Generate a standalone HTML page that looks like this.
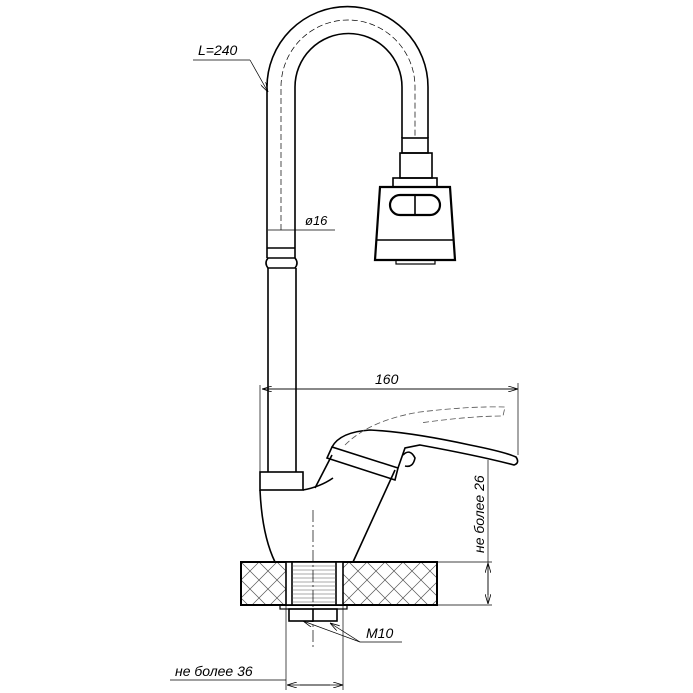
<!DOCTYPE html>
<html><head><meta charset="utf-8"><style>html,body{margin:0;padding:0;background:#fff}svg{display:block}</style></head><body>
<svg width="693" height="693" viewBox="0 0 693 693" xmlns="http://www.w3.org/2000/svg">
<defs>
<pattern id="hx" width="18" height="18" patternUnits="userSpaceOnUse" patternTransform="translate(241,562)">
<path d="M0 0L18 18M18 0L0 18" stroke="#555" stroke-width="0.7"/>
</pattern>
<marker id="ar" markerWidth="10" markerHeight="6" refX="10" refY="3" orient="auto" markerUnits="userSpaceOnUse"><path d="M0 0L10 3L0 6" fill="none" stroke="#000" stroke-width="0.8"/></marker>
</defs>
<g fill="none" stroke="#000" stroke-width="1.6">
<!-- gooseneck -->
<path d="M267 258 V87 A80.5 80.5 0 0 1 428 87 V138"/>
<path d="M295 258 V87 A53 53 0 0 1 402 87 V138"/>
<path d="M281 230 V87 A67 67 0 0 1 415 87 V138" stroke-width="0.7" stroke-dasharray="6,3"/>
<rect x="402" y="138" width="26" height="15"/>
<rect x="400" y="153" width="32" height="25"/>
<rect x="393" y="178" width="44" height="9"/>
<path d="M380 187 H450 L455 260 H375 Z" stroke-width="2.2"/>
<line x1="376" y1="240" x2="454" y2="240"/>
<rect x="396" y="260" width="39" height="4" stroke-width="1.2"/>
<rect x="390" y="195" width="50" height="20" rx="10" stroke-width="2.2"/>
<line x1="415" y1="196" x2="415" y2="214"/>
<!-- ring -->
<line x1="267" y1="248" x2="295" y2="248"/>
<path d="M268 258 Q264 263 268 268 H295 Q299 263 295 258 Z"/>
<path d="M268 268 V472 M296 268 V472"/>
<!-- base block -->
<rect x="260" y="472" width="43" height="18"/>
<!-- body -->
<path d="M260 490 Q262 535 275 562"/>
<path d="M353 562 L395 470"/>
<path d="M303 490 Q320 487 333 478"/>
<path d="M315 488 L332 455"/>
<path d="M327 458 L395 480 L398 468 L332 447 Z"/>
<!-- handle -->
<path d="M332 447 Q340 432 370 430 Q410 432 470 445 Q505 452 516 457 Q520 463 514 465 Q480 456 420 445 L405 448 L398 468"/>
<path d="M403 455 Q410 448 415 458 Q413 468 405 466"/>
<path d="M345 445 Q370 420 420 412 Q470 406 505 407 L503 416 Q470 416 420 423" stroke-width="0.8" stroke-dasharray="6,3" stroke="#555"/>
<!-- counter -->
<rect x="241" y="562" width="196" height="43" fill="url(#hx)" stroke-width="2"/>
<rect x="286" y="562" width="57" height="43" fill="#fff"/>
<line x1="292" y1="562" x2="292" y2="605"/><line x1="336" y1="562" x2="336" y2="605"/>
<g stroke-width="0.6" stroke="#555">
<path d="M292 566H336M292 570H336M292 574H336M292 578H336M292 582H336M292 586H336M292 590H336M292 594H336M292 598H336M292 602H336"/>
</g>
<rect x="280" y="605" width="67" height="4" stroke-width="1.2"/>
<rect x="289" y="609" width="48" height="12"/>
<line x1="313" y1="609" x2="313" y2="621"/>
</g>
<g fill="none" stroke="#000" stroke-width="0.7">
<line x1="313" y1="510" x2="313" y2="650" stroke-dasharray="12,3,2,3"/>
<line x1="260" y1="385" x2="260" y2="472"/>
<line x1="518" y1="383" x2="518" y2="455"/>
<line x1="262" y1="389" x2="518" y2="389" marker-end="url(#ar)"/>
<line x1="516" y1="389" x2="262" y2="389" marker-end="url(#ar)"/>
<line x1="437" y1="562" x2="492" y2="562"/><line x1="437" y1="605" x2="492" y2="605"/>
<line x1="488" y1="460" x2="488" y2="604" marker-end="url(#ar)"/>
<line x1="488" y1="595" x2="488" y2="563" marker-end="url(#ar)"/>
<line x1="286" y1="605" x2="286" y2="690"/><line x1="343" y1="605" x2="343" y2="690"/>
<line x1="170" y1="680" x2="286" y2="680"/>
<line x1="300" y1="685" x2="343" y2="685" marker-end="url(#ar)"/>
<line x1="330" y1="685" x2="287" y2="685" marker-end="url(#ar)"/>
<line x1="360" y1="642" x2="402" y2="642"/>
<line x1="360" y1="642" x2="303" y2="621" marker-end="url(#ar)"/>
<line x1="360" y1="642" x2="330" y2="623" marker-end="url(#ar)"/>
<line x1="193" y1="60" x2="250" y2="60"/>
<line x1="250" y1="60" x2="268" y2="92" marker-end="url(#ar)"/>
<line x1="268" y1="230" x2="335" y2="230"/>
</g>
<g font-family="Liberation Sans, sans-serif" font-size="14" font-style="italic" fill="#000">
<text x="198" y="55">L=240</text>
<text x="305" y="225" font-size="13">ø16</text>
<text x="375" y="384">160</text>
<text x="366" y="638">M10</text>
<text x="175" y="676">не более 36</text>
<text transform="translate(484,553) rotate(-90)">не более 26</text>
</g>
</svg>
</body></html>
